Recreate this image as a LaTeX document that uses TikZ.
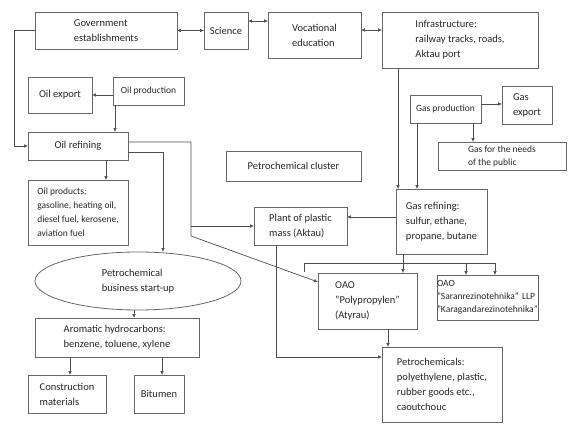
\documentclass[tikz,border=0pt]{standalone}
\usepackage{fontspec}
\setmainfont{Carlito}
\usepackage{tikz}
\usetikzlibrary{shapes.geometric}
\usetikzlibrary{arrows.meta}
\tikzset{>={Latex[width=1.3mm,length=1.4mm]}}

\begin{document}
\begin{tikzpicture}[x=1pt, y=-1pt, box/.style={rectangle, draw=black!60, line width=0.8pt, align=left, inner sep=2pt, outer sep=0pt, text=black!85, font=\fontsize{10.5}{15}\selectfont}, smallbox/.style={box, font=\fontsize{9.5}{13}\selectfont}, oval/.style={ellipse, draw=black!60, line width=0.8pt, align=left, inner sep=0pt, outer sep=0pt, text=black!85, font=\fontsize{10.5}{15}\selectfont}, wh/.style 2 args={minimum width=#1pt, minimum height=#2pt}, conn/.style={draw=black!70, line width=0.7pt}]
    \useasboundingbox (0,0) rectangle (576,430);

    %Nodes
    \node[box, wh={142}{37}](gov) at (106,30.5){Government\\establishments};
    \node[box, wh={44}{37}](sci) at (226,30.5){Science};
    \node[box, wh={93}{46}](voc) at (314.5,35){Vocational\\education};
    \node[box, wh={156}{56}](infra) at (460,40){Infrastructure:\\railway tracks, roads,\\Aktau port};
    \node[box, wh={64}{36}](oilexp) at (60,95){Oil export};
    \node[smallbox, wh={71}{28}](oilprod) at (148.5,91){Oil production};
    \node[box, wh={100}{28}](oilref) at (78,146){Oil refining};
    \node[box, wh={100}{65}, font=\fontsize{9.5}{14}\selectfont](oilprods) at (78,212.5){Oil products:\\gasoline, heating oil,\\diesel fuel, kerosene,\\aviation fuel};
    \node[box, wh={135}{30}](cluster) at (293.5,166){Petrochemical cluster};
    \node[box, wh={93}{38}](plant) at (300.5,226){Plant of plastic\\mass (Aktau)};
    \node[smallbox, wh={71}{28}](gasprod) at (445.5,109){Gas production};
    \node[box, wh={50}{38}](gasexp) at (527,105){Gas\\export};
    \node[smallbox, wh={128}{28}](gaspub) at (502,156){Gas for the needs\\of the public};
    \node[box, wh={91}{65}](gasref) at (441.5,221.5){Gas refining:\\sulfur, ethane,\\propane, butane};
    \node[oval, wh={206}{58}](startup) at (138,281){Petrochemical\\business start-up};
    \node[box, wh={164}{39}](arom) at (117,337.5){Aromatic hydrocarbons:\\benzene, toluene, xylene};
    \node[box, wh={78}{38}](constr) at (67,394){Construction\\materials};
    \node[box, wh={50}{38}](bitumen) at (159,394){Bitumen};
    \node[box, wh={99}{56}](poly) at (367.5,301){OAO\\"Polypropylen"\\(Atyrau)};
    \node[smallbox, wh={101}{45}, inner xsep=0pt, text width=101pt](saran) at (487.5,297.5){OAO\\"Saranrezinotehnika" LLP\\"Karagandarezinotehnika"};
    \node[box, wh={120}{75}](petro) at (442,384.5){Petrochemicals:\\polyethylene, plastic,\\rubber goods etc.,\\caoutchouc};

    %Points
    \coordinate (rbend) at (191,236);
    \coordinate (fork) at (403,263);
    \coordinate (forkl) at (304,263);
    \coordinate (forkstub) at (304,272);
    \coordinate (forkm) at (466,263);
    \coordinate (forkr) at (495,263);

    %Lines
    \draw[conn,<->] (gov.east) -- (sci.west);
    \draw[conn,<->] (sci.east |- 0,21) -- (voc.west |- 0,21);
    \draw[conn,<->] (voc.east |- 0,30) -- (infra.west |- 0,30);
    \draw[conn,->] (gov.west) -- ++(-21,0) |- (oilref.west);
    \draw[conn,->] (oilprod.west |- oilexp.east) -- (oilexp.east);
    \draw[conn,->] ([xshift=2pt]oilprod.south west) -- ([xshift=2pt]oilprod.south west |- oilref.north);
    \draw[conn,->] (oilref.south -| 106,0) -- (oilprods.north -| 106,0);
    \draw[conn,->] (oilref.east |- 0,152) -| (startup.north -| 163,0);
    \draw[conn,->] (oilref.east |- 0,142) -| (rbend) -- (poly.west |- 0,282);
    \draw[conn,->] (plant.west -| rbend) -- (plant.west);
    \draw[conn,->] ([xshift=2pt]gasref.north west |- infra.south) -- ([xshift=2pt]gasref.north west);
    \draw[conn,->] (gasprod.south -| 417,0) -- (gasref.north -| 417,0);
    \draw[conn,->] (gasprod.east |- 0,104) -- (gasexp.west |- 0,104);
    \draw[conn,->] (gasprod.south -| 473,0) -- (gaspub.north -| 473,0);
    \draw[conn,->] (gasref.west |- 0,217) -- (plant.east |- 0,217);
    \draw[conn] (gasref.south -| fork) -- (fork);
    \draw[conn] (forkstub) -- (forkl) -- (forkr);
    \draw[conn,->] (fork) -- (poly.north -| fork);
    \draw[conn,->] (forkm) -- (saran.north -| forkm);
    \draw[conn,->] (forkr) -- (saran.north -| forkr);
    \draw[conn,->] (poly.south -| 388,0) -- (petro.north -| 388,0);
    \draw[conn,->] (plant.south -| 276,0) |- (petro.west |- 0,357);
    \draw[conn,->] (startup.south -| 134,0) -- (arom.north -| 134,0);
    \draw[conn,->] (arom.south -| 70,0) -- (constr.north -| 70,0);
    \draw[conn,->] (arom.south -| 162,0) -- (bitumen.north -| 162,0);
\end{tikzpicture}
\end{document}
